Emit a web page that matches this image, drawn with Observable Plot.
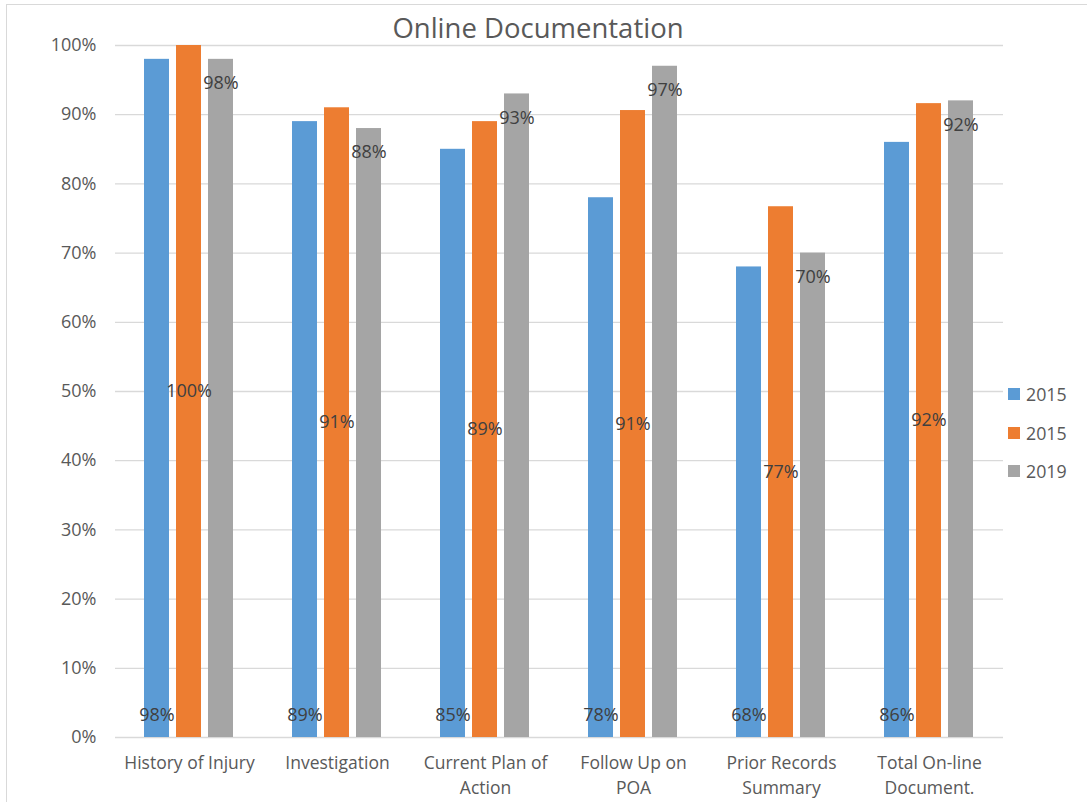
<!DOCTYPE html>
<html>
<head>
<meta charset="utf-8">
<script src="https://cdn.jsdelivr.net/npm/d3@7"></script>
<script src="https://cdn.jsdelivr.net/npm/@observablehq/plot@0.6"></script>
<style>
  html, body { margin: 0; padding: 0; background: #fff; }
  #wrap { position: relative; width: 1087px; height: 802px; overflow: hidden; font-family: "Open Sans", sans-serif; }
  #border { position: absolute; left: 6px; top: 4px; width: 1100px; height: 820px; border: 1px solid #d9d9d9; box-sizing: border-box; }
  #title { position: absolute; left: 0; width: 1076px; top: 8px; text-align: center; font-size: 27.5px; color: #595959; line-height: 40px; }
  #chart { position: absolute; left: 0; top: 0; }
  #legend { position: absolute; left: 1008px; top: 375px; font-size: 17.8px; color: #595959; }
  .item { display: flex; align-items: center; height: 38.5px; }
  .swatch { width: 12px; height: 12px; margin-right: 6px; }
</style>
</head>
<body>
<div id="wrap">
  <div id="border"></div>
  <div id="chart"></div>
  <div id="title">Online Documentation</div>
  <div id="legend"></div>
</div>
<script>
// Categories and their two-line axis labels
const categories = ["History of Injury", "Investigation", "Current Plan of Action", "Follow Up on POA", "Prior Records Summary", "Total On-line Document."];
const categoryLines = ["History of Injury", "Investigation", "Current Plan of\nAction", "Follow Up on\nPOA", "Prior Records\nSummary", "Total On-line\nDocument."];

// Series names (as shown in the legend) and values in percent
const seriesNames = ["2015", "2015", "2019"];
const valuesSeries1 = [98, 89, 85, 78, 68, 86];
const valuesSeries2 = [100, 91, 89, 90.6, 76.7, 91.6];
const valuesSeries3 = [98, 88, 93, 97, 70, 92];

// Y axis tick values
const yTicks = [0, 10, 20, 30, 40, 50, 60, 70, 80, 90, 100];

const seriesColors = ["#5B9BD5", "#ED7D31", "#A5A5A5"];

const allSeries = [valuesSeries1, valuesSeries2, valuesSeries3];
const rows = allSeries.flatMap((vals, s) =>
  vals.map((v, i) => ({category: categories[i], series: s, value: v}))
);
const pct = d => Math.round(d.value) + "%";
const labelFill = "#404040";
const labelSize = 18;

const chart = Plot.plot({
  width: 1087,
  height: 802,
  marginLeft: 114,
  marginRight: 83,
  marginTop: 45,
  marginBottom: 65,
  style: {fontFamily: "'Open Sans', sans-serif", fontSize: "16px", color: "#595959", background: "transparent"},
  fx: {domain: categories, padding: 0, label: null},
  x: {domain: [0, 1, 2], paddingInner: 0.212, paddingOuter: 0.853, axis: null},
  y: {domain: [0, 100], label: null},
  color: {type: "ordinal", domain: [0, 1, 2], range: seriesColors},
  marks: [
    Plot.gridY(yTicks, {stroke: "#d9d9d9", strokeOpacity: 1, strokeWidth: 1.3}),
    Plot.axisY(yTicks, {tickSize: 0, tickPadding: 19, tickFormat: d => d + "%", fill: "#595959", fontSize: 18, label: null}),
    Plot.axisFx({anchor: "bottom", tickSize: 0, tickPadding: 14, label: null, lineHeight: 1.42, fill: "#595959", fontSize: 17.5,
      tickFormat: c => categoryLines[categories.indexOf(c)]}),
    Plot.barY(rows, {fx: "category", x: "series", y: "value", fill: "series"}),
    // first series: label at the inside base of the bar
    Plot.text(rows.filter(d => d.series === 0), {fx: "category", x: "series", frameAnchor: "bottom", lineAnchor: "middle", dy: -22, text: pct, fill: labelFill, fontSize: labelSize}),
    // second series: label centred in the bar
    Plot.text(rows.filter(d => d.series === 1), {fx: "category", x: "series", y: d => d.value / 2, text: pct, fill: labelFill, fontSize: labelSize}),
    // third series: label at the inside end of the bar
    Plot.text(rows.filter(d => d.series === 2), {fx: "category", x: "series", y: "value", dy: 24, text: pct, fill: labelFill, fontSize: labelSize})
  ]
});
document.getElementById("chart").appendChild(chart);

// Legend
const legend = document.getElementById("legend");
seriesNames.forEach((name, i) => {
  const item = document.createElement("div");
  item.className = "item";
  const sw = document.createElement("span");
  sw.className = "swatch";
  sw.style.background = seriesColors[i];
  const label = document.createElement("span");
  label.textContent = name;
  item.appendChild(sw);
  item.appendChild(label);
  legend.appendChild(item);
});
</script>
</body>
</html>
